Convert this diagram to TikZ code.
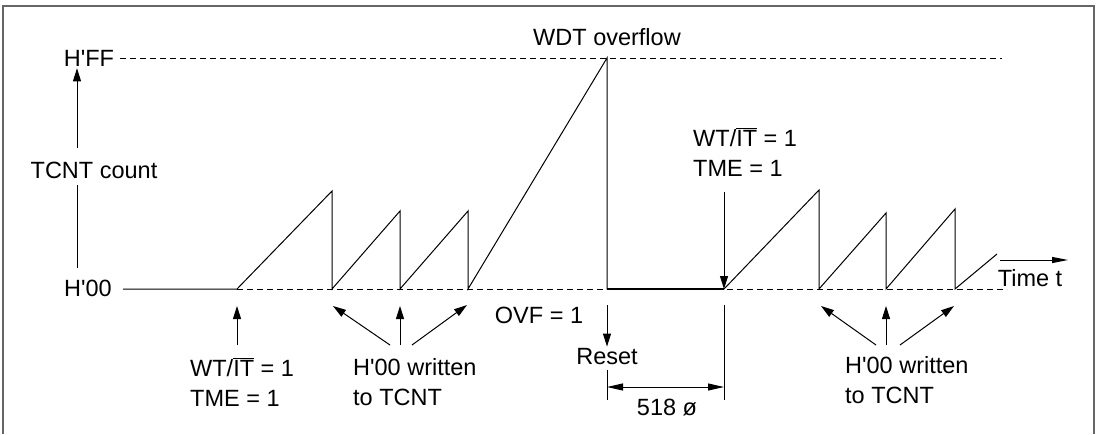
\documentclass[tikz,border=0pt]{standalone}
\usepackage{fontspec}
\setmainfont{Liberation Sans}
\usetikzlibrary{positioning,arrows.meta}

\begin{document}
\begin{tikzpicture}[x=1pt, y=-1pt,
    lbl/.style   ={font=\fontsize{23.5}{30}\selectfont, inner sep=2pt},
    note/.style  ={lbl, align=left, anchor=west},
    wave/.style  ={line width=1pt, line join=miter},
    guide/.style ={line width=1pt, dash pattern=on 6pt off 4pt},
    ptr/.style   ={line width=1pt, -{Triangle[length=13pt,width=8pt]}},
    dimline/.style={line width=1pt, {Triangle[length=16pt,width=7pt]}-{Triangle[length=16pt,width=7pt]}}
  ]
    \useasboundingbox (0,0) rectangle (1099,434);
    % outer frame, open at the bottom
    \draw[gray!80!black, line width=1.5pt] (3,434) -- (3,6) -- (1094,6) -- (1094,434);

    % --- axis labels ---
    \node[lbl] (hff)  at (89,58)  {H\textquotesingle FF};
    \node[lbl] (h00)  at (88,288) {H\textquotesingle 00};
    \node[lbl] (tcnt) at (94,170) {TCNT count};
    \coordinate (ax) at (77,0);
    \coordinate (axtop) at (77,148);
    \coordinate (axbot) at (77,185);
    \coordinate (axlow) at (77,268);
    \draw[ptr] (axtop) -- (hff.south -| ax);
    \draw[line width=1pt] (axbot) -- (axlow);

    % --- levels ---
    \coordinate (ffend) at (1002,58);
    \coordinate (base0) at (123,289);
    \coordinate (baseend) at (1007,289);
    \draw[guide] ([xshift=4pt]hff.east) -- (ffend);

    % --- waveform points ---
    \coordinate (s0)  at (237,289);
    \coordinate (p1)  at (332,191); \coordinate (r1) at (332,289);
    \coordinate (p2)  at (400,211); \coordinate (r2) at (400,289);
    \coordinate (p3)  at (468,211); \coordinate (r3) at (468,289);
    \coordinate (pov) at (607,58);  \coordinate (rov) at (607,289);
    \coordinate (s1)  at (724,289);
    \coordinate (p5)  at (819,190); \coordinate (r5) at (819,289);
    \coordinate (p6)  at (886,213); \coordinate (r6) at (886,289);
    \coordinate (p7)  at (955,209); \coordinate (r7) at (955,289);
    \coordinate (p8)  at (997,254);

    \draw[guide] (s0) -- (baseend);
    \draw[wave] (base0) -- (s0) -- (p1) -- (r1) -- (p2) -- (r2) -- (p3) -- (r3)
                -- (pov) -- (rov) -- (s1) -- (p5) -- (r5) -- (p6) -- (r6)
                -- (p7) -- (r7) -- (p8);
    \draw[line width=1.6pt] (rov) -- (s1);

    % --- top labels ---
    \node[lbl] (wdt) at (607,37) {WDT overflow};
    \node[note] (wtB) at (691,152) {WT/$\overline{\mbox{IT}}$ = 1\\TME = 1};
    \draw[ptr] (724,192) -- (s1);

    % --- left notes ---
    \node[note] (wtA) at (188,382) {WT/$\overline{\mbox{IT}}$ = 1\\TME = 1};
    \draw[ptr] (237,345) -- ([yshift=-17pt]s0);
    \node[note] (hwA) at (351,382) {H\textquotesingle 00 written\\to TCNT};
    \draw[ptr] (390,345) -- ([xshift=1pt,yshift=-17pt]r1);
    \draw[ptr] (400,345) -- ([yshift=-17pt]r2);
    \draw[ptr] (412,345) -- ([xshift=-1pt,yshift=-16pt]r3);

    % --- reset ---
    \node[lbl] (ovf)   at (539,315) {OVF = 1};
    \node[lbl] (reset) at (607,357) {Reset};
    \draw[ptr] ([yshift=-16pt]rov) -- (reset.north);
    \draw[line width=1pt] (607,370) -- (607,400);
    \draw[line width=1pt] (724,305) -- (724,400);
    \draw[dimline] (607,387) -- (724,387);
    \node[lbl] (wait) at (667,408) {518 ø};

    % --- right notes ---
    \node[note] (hwB) at (843,380) {H\textquotesingle 00 written\\to TCNT};
    \draw[ptr] (876,345) -- ([xshift=2pt,yshift=-17pt]r5);
    \draw[ptr] (886,345) -- ([yshift=-17pt]r6);
    \draw[ptr] (900,345) -- ([xshift=-1pt,yshift=-17pt]r7);

    % --- time axis ---
    \coordinate (tstart) at (1000,260);
    \coordinate (tend)   at (1068,260);
    \draw[line width=1pt, -{Triangle[length=16pt,width=6pt]}] (tstart) -- (tend);
    \node[lbl] (time) at (1030,278) {Time t};
  \end{tikzpicture}
\end{document}
